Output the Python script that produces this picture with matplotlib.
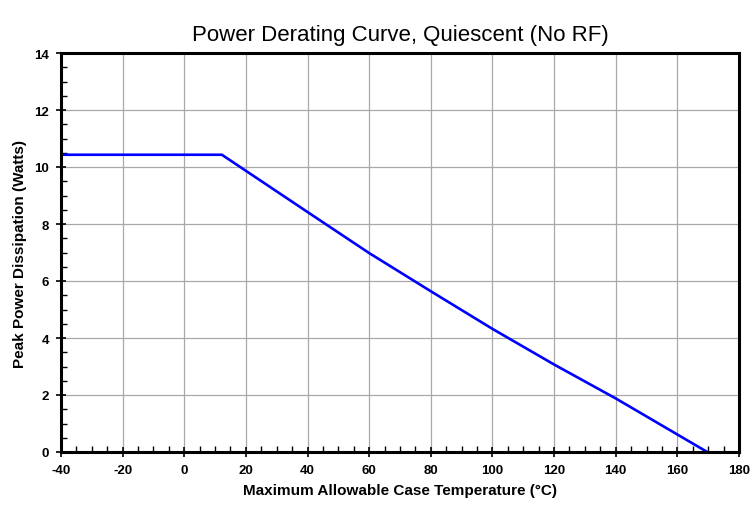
import matplotlib
matplotlib.use("Agg")
import matplotlib.pyplot as plt
from matplotlib.ticker import MultipleLocator

temps = [-40, 12.2, 40, 60, 80, 100, 120, 140, 169.7]
power = [10.43, 10.43, 8.42, 6.98, 5.64, 4.32, 3.07, 1.88, 0]
xticks = [-40, -20, 0, 20, 40, 60, 80, 100, 120, 140, 160, 180]
yticks = [0, 2, 4, 6, 8, 10, 12, 14]

plt.rcParams['font.family'] = ['Liberation Sans', 'DejaVu Sans']
plt.rcParams['axes.unicode_minus'] = False
fig = plt.figure(figsize=(7.52, 5.06), dpi=100)
ax = fig.add_axes([61/752, 53/506, (739-61)/752, (453-54)/506])
ax.plot(temps, power, color='#0000ff', lw=1.9, solid_capstyle='butt')
ax.set_xlim(-40, 180)
ax.set_ylim(0, 14)
ax.set_xticks(xticks)
ax.set_yticks(yticks)
ax.xaxis.set_minor_locator(MultipleLocator(5))
ax.yaxis.set_minor_locator(MultipleLocator(0.5))
ax.grid(True, which='major', color='#a8a8a8', lw=0.9)
ax.set_axisbelow(True)
for s in ax.spines.values():
    s.set_linewidth(2.2)
    s.set_color('black')
ax.tick_params(which='major', direction='inout', length=7, width=1.2, labelsize=9.5, pad=5)
ax.tick_params(which='minor', direction='in', length=4, width=1)
for lab in ax.get_xticklabels() + ax.get_yticklabels():
    lab.set_fontweight('bold')
ax.set_xlabel('Maximum Allowable Case Temperature (°C)', fontsize=11, fontweight='bold', labelpad=5)
ax.set_ylabel('Peak Power Dissipation (Watts)', fontsize=11, fontweight='bold', labelpad=5)
fig.text((61+739)/2/752, 1-35/506, 'Power Derating Curve, Quiescent (No RF)', ha='center', va='center', fontsize=16)
fig.savefig('out.png', dpi=100)
